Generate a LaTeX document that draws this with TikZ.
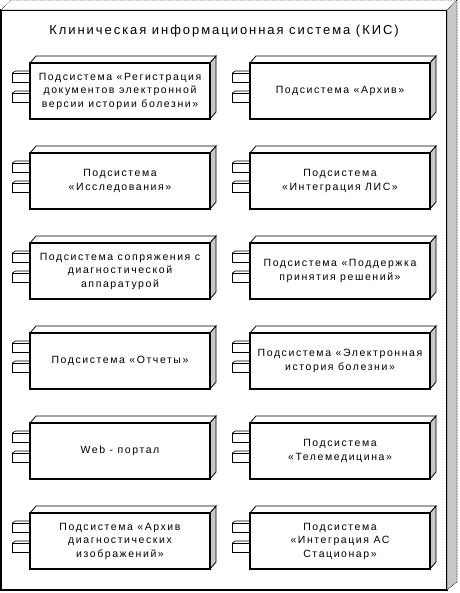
\documentclass[tikz,border=0pt]{standalone}
\usepackage{fontspec}
\setmainfont{Liberation Sans}
\newfontfamily\kisfont[LetterSpace=15]{Liberation Sans}
\usetikzlibrary{positioning}
\definecolor{sideGray}{HTML}{C8C8C8}

\tikzset{
  comp/.style={draw, line width=1.2pt, fill=white, outer sep=0pt, inner sep=1pt,
    minimum width=180pt, minimum height=56pt, align=center,
    font=\kisfont\fontsize{10.5}{13.5}\selectfont,
    append after command={\pgfextra{
      % top and side faces
      \draw[line width=0.8pt, fill=white] (\tikzlastnode.north west) -- ++(6,-7)
        -- ([shift={(6,-7)}]\tikzlastnode.north east) -- (\tikzlastnode.north east) -- cycle;
      \draw[line width=0.8pt, fill=sideGray] (\tikzlastnode.north east) -- ++(6,-7)
        -- ([shift={(6,-7)}]\tikzlastnode.south east) -- (\tikzlastnode.south east) -- cycle;
      % ports
      \draw[line width=0.8pt, fill=white] ([shift={(-17.6,-18)}]\tikzlastnode.west) rectangle ++(17,9);
      \draw[line width=0.8pt, fill=white] ([shift={(-17.6,2)}]\tikzlastnode.west) rectangle ++(17,9);
      \draw[line width=0.6pt] ([shift={(-17.6,-18)}]\tikzlastnode.west) -- ++(3,-2) -- ++(14,0);
      \draw[line width=0.6pt] ([shift={(-17.6,2)}]\tikzlastnode.west) -- ++(3,-2) -- ++(14,0);
    }}},
  title/.style={font=\kisfont\fontsize{13}{15}\selectfont, inner sep=0pt}
}

\begin{document}
\begin{tikzpicture}[x=1pt, y=-1pt, node distance=34pt and 40pt]
  \useasboundingbox (0,0) rectangle (459,593);
  \node[draw, line width=1.5pt, fill=white, outer sep=0pt, minimum width=446pt, minimum height=580pt] (kis) at (224,300) {};
  \draw[line width=0.6pt, densely dotted, fill=white] (kis.north west) -- ++(10,-10)
    -- ([shift={(10,-10)}]kis.north east) -- (kis.north east) -- cycle;
  \draw[line width=0.6pt, densely dotted, fill=sideGray] (kis.north east) -- ++(10,-10)
    -- ([shift={(10,-8)}]kis.south east) -- (kis.south east) -- cycle;
  \node[title] (title) at ([yshift=-21pt]kis.north) {Клиническая информационная система (КИС)};

  \node[comp] (reg) at (120,91) {Подсистема «Регистрация\\документов электронной\\версии истории болезни»};
  \node[comp, right=of reg] (arch) {Подсистема «Архив»};
  \node[comp, below=of reg] (issl) {Подсистема\\«Исследования»};
  \node[comp, right=of issl] (lis) {Подсистема\\«Интеграция ЛИС»};
  \node[comp, below=of issl] (sopr) {Подсистема сопряжения с\\диагностической\\аппаратурой};
  \node[comp, right=of sopr] (podd) {Подсистема «Поддержка\\принятия решений»};
  \node[comp, below=of sopr] (otch) {Подсистема «Отчеты»};
  \node[comp, right=of otch] (eib) {Подсистема «Электронная\\история болезни»};
  \node[comp, below=of otch] (web) {Web - портал};
  \node[comp, right=of web] (tele) {Подсистема\\«Телемедицина»};
  \node[comp, below=of web] (izob) {Подсистема «Архив\\диагностических\\изображений»};
  \node[comp, right=of izob] (stac) {Подсистема\\«Интеграция АС\\Стационар»};
\end{tikzpicture}
\end{document}
